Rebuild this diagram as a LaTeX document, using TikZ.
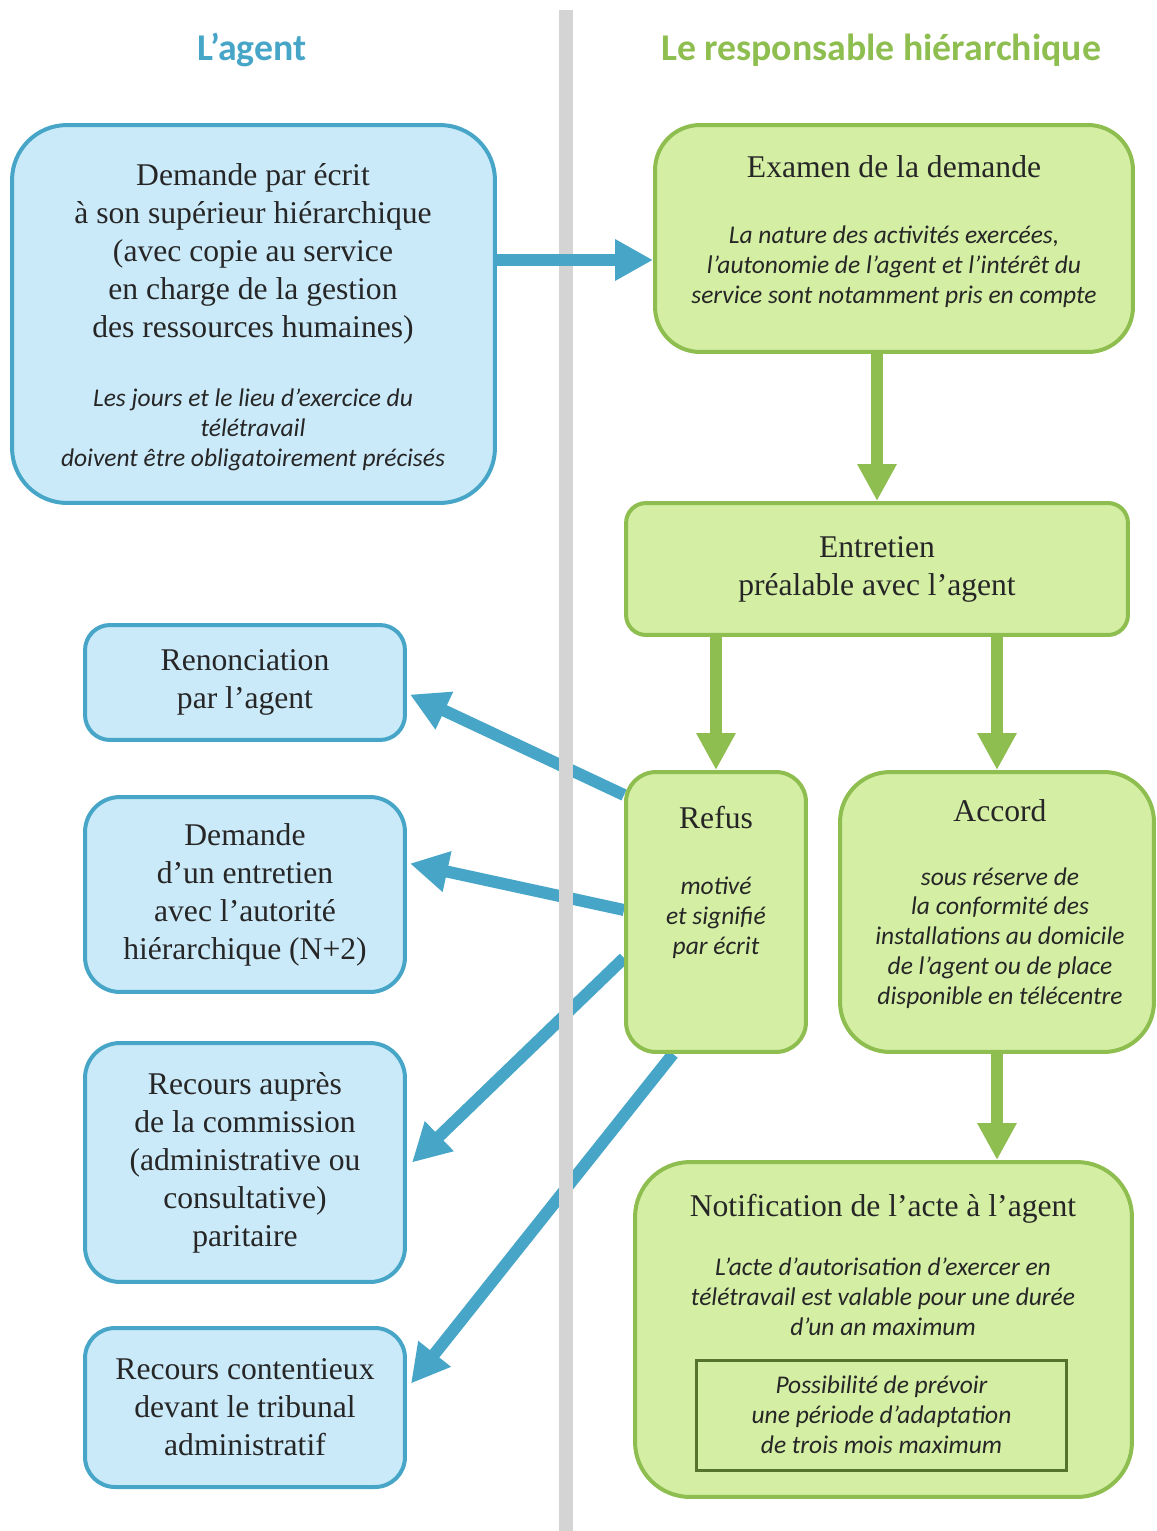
\documentclass[tikz,border=0pt]{standalone}
\usepackage{fontspec}
\setmainfont{Liberation Serif}
\newfontfamily\carlito{Carlito}
\usepackage{tikz}
\usetikzlibrary{positioning, arrows.meta, calc, backgrounds}
\definecolor{agent}{HTML}{47A6C7}
\definecolor{agentfill}{HTML}{CBEAF9}
\definecolor{chef}{HTML}{8FBE50}
\definecolor{cheffill}{HTML}{D4EEA4}
\definecolor{cadre}{HTML}{56732E}
\definecolor{ink}{HTML}{262626}
\definecolor{rail}{HTML}{D4D4D4}
\newcommand{\txtbody}{\fontsize{18}{21.6}\selectfont}
\newcommand{\txtnote}{\carlito\itshape\fontsize{14.5}{17}\selectfont}
\newcommand{\txttitle}{\carlito\bfseries\fontsize{21.5}{26}\selectfont}

\begin{document}
\begin{tikzpicture}[x=0.02cm, y=-0.02cm,
    every node/.style={text=ink},
    abox/.style={rectangle, draw=agent, fill=agentfill, line width=0.08cm,
      align=center, font=\txtbody, minimum width=6.4cm},
    rbox/.style={rectangle, draw=chef, fill=cheffill, line width=0.08cm,
      align=center, font=\txtbody},
    headtxt/.style={align=center, font=\txtbody},
    notetxt/.style={align=center, font=\txtnote},
    barr/.style={-{Triangle[length=0.76cm, width=0.78cm]}, line width=0.24cm, draw=agent},
    garr/.style={-{Triangle[length=0.74cm, width=0.74cm]}, line width=0.24cm, draw=chef}]

  \useasboundingbox (0,0) rectangle (1156,1531);

  \node[font=\txttitle, text=agent] (tagent) at (252,50) {L’agent};
  \node[font=\txttitle, text=chef] (tchef) at (881,50) {Le responsable hiérarchique};

  \node[abox, minimum width=9.66cm, minimum height=7.56cm, rounded corners=1.1cm]
    (req) at (253.5,314) {};
  \node[headtxt] (reqT) at (253,254) {Demande par écrit\\à son supérieur hiérarchique\\
    (avec copie au service\\en charge de la gestion\\des ressources humaines)};
  \node[notetxt] (reqN) at (253,430) {Les jours et le lieu d’exercice du\\télétravail\\
    doivent être obligatoirement précisés};

  \node[rbox, minimum width=9.56cm, minimum height=4.54cm, rounded corners=0.9cm]
    (exam) at (894,238.5) {};
  \node[headtxt] (examT) at (894,167) {Examen de la demande};
  \node[notetxt] (examN) at (894,267) {La nature des activités exercées,\\
    l’autonomie de l’agent et l’intérêt du\\service sont notamment pris en compte};

  \node[rbox, minimum width=10.04cm, minimum height=2.64cm, rounded corners=0.4cm]
    (talk) at (877,569) {Entretien\\préalable avec l’agent};

  \node[rbox, minimum width=3.6cm, minimum height=5.6cm, rounded corners=0.6cm]
    (refus) at (716,912) {};
  \node[headtxt] (refusT) at (716,818) {Refus};
  \node[notetxt] (refusN) at (716,918) {motivé\\et signifié\\par écrit};

  \node[rbox, minimum width=6.28cm, minimum height=5.6cm, rounded corners=1cm]
    (accord) at (997,912) {};
  \node[headtxt] (accordT) at (1000,811) {Accord};
  \node[notetxt] (accordN) at (1000,938) {sous réserve de\\la conformité des\\
    installations au domicile\\de l’agent ou de place\\disponible en télécentre};

  \node[rbox, minimum width=9.94cm, minimum height=6.7cm, rounded corners=1.1cm]
    (notif) at (883.5,1329.5) {};
  \node[headtxt] (notifT) at (883,1209) {Notification de l’acte à l’agent};
  \node[notetxt] (notifN) at (883,1297) {L’acte d’autorisation d’exercer en\\
    télétravail est valable pour une durée\\d’un an maximum};
  \node[notetxt, draw=cadre, line width=0.06cm, minimum width=7.42cm, minimum height=2.2cm]
    (adapt) at (881.5,1415) {Possibilité de prévoir\\une période d’adaptation\\
    de trois mois maximum};

  \node[abox, minimum height=2.3cm, rounded corners=0.5cm]
    (renonc) at (245,682.5) {Renonciation\\par l’agent};
  \node[abox, minimum height=3.9cm, rounded corners=0.7cm]
    (entret) at (245,894.5) {Demande\\d’un entretien\\avec l’autorité\\hiérarchique (N+2)};
  \node[abox, minimum height=4.78cm, rounded corners=0.7cm]
    (commis) at (245,1162.5) {Recours auprès\\de la commission\\(administrative ou\\
    consultative)\\paritaire};
  \node[abox, minimum height=3.18cm, rounded corners=0.6cm]
    (content) at (245,1407.5) {Recours contentieux\\devant le tribunal\\administratif};

  \draw[garr] (talk.north |- exam.south) -- (talk.north);
  \draw[garr] (refus.north |- talk.south) -- (refus.north);
  \draw[garr] (accord.north |- talk.south) -- (accord.north);
  \draw[garr] (accord.south) -- (accord.south |- notif.north);

  \begin{scope}[on background layer]
    \draw[barr] ($(refus.west)+(0,-117)$) -- ($(renonc.east)+(3,12)$);
    \draw[barr] ($(refus.west)+(0,-2)$) -- ($(entret.east)+(3,-31)$);
    \draw[barr] ($(refus.west)+(0,46)$) -- ($(commis.east)+(5,0)$);
    \draw[barr] ($(refus.south)+(-43,0)$) -- ($(content.east)+(4,-24)$);
    \fill[rail] (559,10) rectangle (573,1531);
  \end{scope}

  \coordinate (reqOut) at ($(req.east)+(0,-54)$);
  \draw[barr] (reqOut) -- (reqOut -| exam.west);
\end{tikzpicture}
\end{document}
